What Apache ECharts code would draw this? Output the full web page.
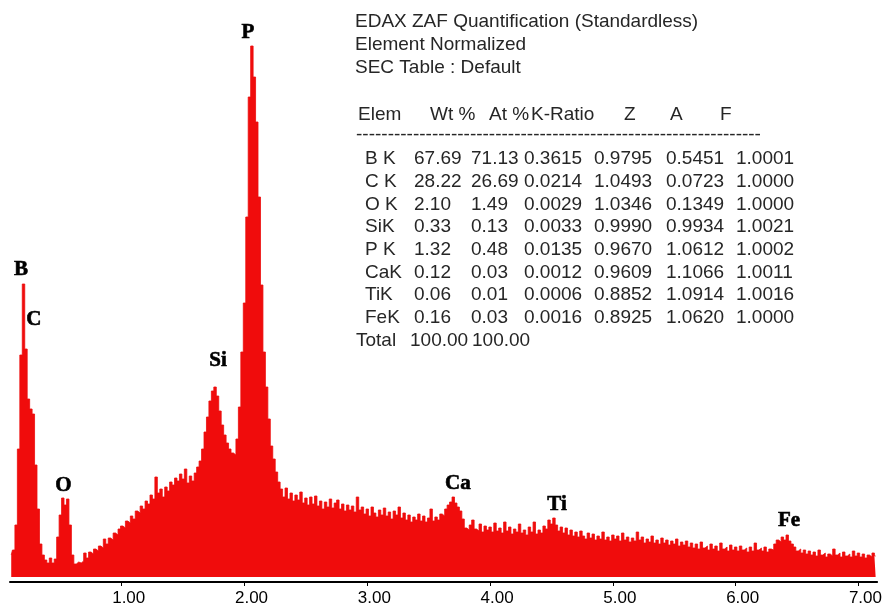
<!DOCTYPE html>
<html><head><meta charset="utf-8">
<script src="https://cdn.jsdelivr.net/npm/echarts@6/dist/echarts.min.js"></script>
<style>html,body{margin:0;padding:0;background:#fff}#c{width:885px;height:608px}</style>
</head><body><div id="c"></div>
<script>
// ---------------- DATA ----------------
// EDS spectrum, channel width 0.02 keV, counts (arbitrary units)
const CHANNEL_KEV = 0.02;
const countsLow = [ // from 0.10 keV (B, C, O)
  22, 27, 52, 128, 222, 293, 228, 178, 168, 163,
  112, 68, 33, 22, 17, 14, 19, 14, 18, 40,
  62, 79, 72, 78, 52, 22, 13, 15, 14, 16,
  24, 19, 25, 23, 28, 26, 31, 29, 38, 33,
  39, 37, 44, 42, 48];
const countsRise = [ // from 1.00 keV
  51, 49, 56, 54, 61, 58, 66, 64, 71, 68,
  76, 73, 82, 78, 100, 84, 88, 80, 90, 86,
  95, 92, 99, 96, 103, 98, 108, 94, 101, 96];
const countsSiP = [ // from 1.60 keV (Si, P)
  104, 110, 116, 128, 145, 160, 176, 186, 190, 181,
  166, 152, 142, 134, 128, 124, 122, 138, 170, 225,
  274, 360, 480, 531, 500, 455, 380, 292, 225, 190,
  158, 131, 118, 105, 95];
const countsMid = [ // from 2.30 keV (Ca)
  88, 80, 89, 78, 84, 76, 82, 77, 85, 74,
  79, 72, 80, 73, 81, 71, 76, 68, 75, 70,
  78, 69, 74, 77, 68, 73, 66, 72, 67, 71,
  65, 80, 67, 70, 63, 68, 61, 70, 64, 60,
  67, 62, 69, 61, 65, 58, 66, 62, 70, 59,
  64, 57, 62, 55, 60, 57, 63, 56, 61, 55,
  59, 68, 56, 60, 57, 63, 61, 68, 72, 75,
  80, 74, 70, 66, 58, 49, 47, 52, 57, 48,
  46, 53, 45, 51, 47];
const countsTailA = [ // from 4.00 keV (Ti)
  50, 45, 54, 46, 49, 44, 55, 46, 50, 43,
  48, 45, 53, 44, 47, 42, 50, 45, 55, 43,
  47, 44, 51, 48, 57, 53, 59, 52, 46, 50,
  44, 49, 42, 47, 41, 45, 40, 46, 41, 38,
  44, 39, 43, 37, 41, 38, 45, 37, 40, 36,
  42, 38, 41, 36, 44, 37, 40, 35, 39, 36,
  45, 37, 40, 34, 38, 35, 41, 34, 37, 33,
  39, 34, 37, 32, 36, 33, 38, 31, 35, 32];
const countsTailB = [ // from 5.60 keV (Fe)
  36, 30, 34, 29, 33, 28, 35, 29, 31, 27,
  33, 28, 31, 26, 34, 28, 30, 26, 32, 27,
  30, 26, 31, 27, 29, 25, 30, 26, 34, 27,
  29, 26, 30, 25, 28, 27, 33, 37, 35, 40,
  37, 42, 36, 33, 30, 26, 28, 24, 27, 23,
  26, 22, 25, 21, 27, 22, 24, 20, 23, 21,
  28, 22, 24, 20, 25, 21, 23, 20, 26, 21,
  24, 20, 23, 19, 22, 20, 24, 21];
const segmentStarts = [0.10, 1.00, 1.60, 2.30, 4.00, 5.60];
const segmentCounts = [countsLow, countsRise, countsSiP, countsMid, countsTailA, countsTailB];

const tickValues = [1, 2, 3, 4, 5, 6, 7];

const peakNames = ['B', 'C', 'O', 'Si', 'P', 'Ca', 'Ti', 'Fe'];
const peakLabelKeV = [0.179, 0.284, 0.526, 1.785, 2.027, 3.738, 4.545, 6.434];
const peakLabelCounts = [307, 257, 91, 216, 544, 93, 72, 56];

const titleLines = ['EDAX ZAF Quantification (Standardless)', 'Element Normalized', 'SEC Table : Default'];
const tableHeader = ['Elem', 'Wt %', 'At %', 'K-Ratio', 'Z', 'A', 'F'];
const tableElem = ['B K', 'C K', 'O K', 'SiK', 'P K', 'CaK', 'TiK', 'FeK'];
const tableWt = ['67.69', '28.22', '2.10', '0.33', '1.32', '0.12', '0.06', '0.16'];
const tableAt = ['71.13', '26.69', '1.49', '0.13', '0.48', '0.03', '0.01', '0.03'];
const tableKRatio = ['0.3615', '0.0214', '0.0029', '0.0033', '0.0135', '0.0012', '0.0006', '0.0016'];
const tableZ = ['0.9795', '1.0493', '1.0346', '0.9990', '0.9670', '0.9609', '0.8852', '0.8925'];
const tableA = ['0.5451', '0.0723', '0.1349', '0.9934', '1.0612', '1.1066', '1.0914', '1.0620'];
const tableF = ['1.0001', '1.0000', '1.0000', '1.0021', '1.0002', '1.0011', '1.0016', '1.0000'];
const tableTotal = ['Total', '100.00', '100.00'];

// ---------------- BUILD ----------------
const spectrum = [];
segmentCounts.forEach((arr, s) => {
  arr.forEach((v, i) => {
    spectrum.push([+(segmentStarts[s] + i * CHANNEL_KEV).toFixed(3), v]);
  });
});

const textFont = 'Liberation Sans, Arial, sans-serif';
const textColor = '#262626';
const graphics = [];
function addText(str, x, y) {
  graphics.push({
    type: 'text', x: x, y: y, silent: true, z: 10,
    style: { text: str, fontFamily: textFont, fontSize: 19, fill: textColor, verticalAlign: 'middle', align: 'left' }
  });
}
titleLines.forEach((t, i) => addText(t, 355, 22 + i * 23));
const headerX = [358, 430, 489, 531, 624, 670, 720];
tableHeader.forEach((t, i) => addText(t, headerX[i], 115));
addText('-'.repeat(64), 356, 135);
const colX = [365, 414, 471, 524, 594, 666, 736];
const cols = [tableElem, tableWt, tableAt, tableKRatio, tableZ, tableA, tableF];
const rowY0 = 159, rowDY = 22.7;
cols.forEach((col, c) => col.forEach((t, r) => addText(t, colX[c], rowY0 + r * rowDY)));
const totalX = [356, 410, 472];
tableTotal.forEach((t, i) => addText(t, totalX[i], rowY0 + 8 * rowDY));

const chart = echarts.init(document.getElementById('c'), null, { renderer: 'canvas' });
chart.setOption({
  animation: false,
  backgroundColor: '#ffffff',
  grid: { left: 10, right: 0, top: 17, bottom: 26, containLabel: false },
  xAxis: {
    type: 'value', min: 0.09, max: 7.152,
    axisLine: { onZero: false, lineStyle: { color: '#000', width: 2 } },
    axisTick: { show: true, length: 4, customValues: tickValues, lineStyle: { color: '#000', width: 1 } },
    axisLabel: {
      customValues: tickValues, margin: 8, color: '#000', fontSize: 17,
      fontFamily: 'Liberation Sans Narrow, Arial Narrow, sans-serif',
      padding: [0, 0, 0, 14],
      formatter: v => v.toFixed(2)
    },
    splitLine: { show: false }
  },
  yAxis: { type: 'value', min: -5, max: 560, show: false, splitLine: { show: false } },
  series: [
    {
      type: 'line', data: spectrum, step: 'middle', symbol: 'none', silent: true,
      lineStyle: { color: '#ec0d0d', width: 0.8 },
      areaStyle: { color: '#f00c0c', opacity: 1 },
      z: 2
    },
    {
      type: 'scatter', symbol: 'circle', symbolSize: 0, silent: true,
      itemStyle: { color: '#000', opacity: 1 },
      data: peakNames.map((n, i) => ({ name: n, value: [peakLabelKeV[i], peakLabelCounts[i]] })),
      label: {
        show: true, position: 'inside', formatter: p => p.name, opacity: 1,
        fontFamily: '"Liberation Serif", "Times New Roman", serif', fontWeight: 'bold', fontSize: 21,
        color: '#000', textBorderWidth: 0.6, textBorderColor: '#000'
      },
      z: 5
    }
  ],
  graphic: graphics
});
</script></body></html>
